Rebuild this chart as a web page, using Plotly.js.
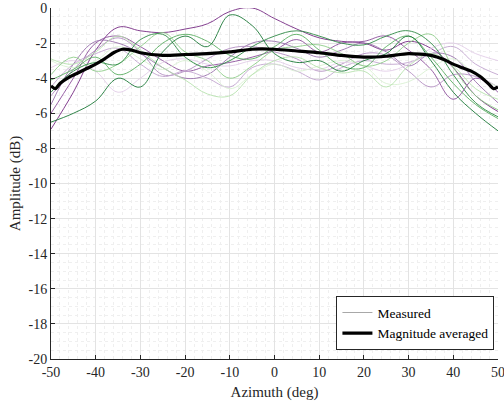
<!DOCTYPE html>
<html>
<head>
<meta charset="utf-8">
<script src="https://cdn.plot.ly/plotly-3.0.1.min.js"></script>
<style>html,body{margin:0;padding:0;background:#fff;}#chart{width:504px;height:406px;}</style>
</head>
<body>
<div id="chart"></div>
<script>
// Azimuth grid for the measured curves (deg)
const azimuth = [-50,-45,-40,-35,-30,-25,-20,-15,-10,-5,0,5,10,15,20,25,30,35,40,45,50];

// Measured amplitude curves (dB)
const measured1  = [-6.9,-4.8,-2.4,-1.1,-1.3,-1.4,-1.2,-0.9,-0.2,0.0,-0.6,-1.2,-1.7,-1.9,-2.0,-2.4,-1.9,-2.3,-3.4,-5.0,-5.9];
const measured2  = [-6.0,-4.0,-2.0,-1.6,-2.2,-3.0,-3.6,-3.3,-3.1,-2.8,-2.4,-1.8,-2.5,-2.0,-1.9,-1.6,-2.4,-3.5,-5.2,-4.0,-4.8];
const measured3  = [-5.5,-3.2,-1.9,-2.0,-2.6,-3.4,-4.0,-3.8,-2.8,-2.0,-1.9,-2.3,-2.8,-2.4,-2.0,-2.5,-3.3,-2.6,-2.8,-4.2,-5.4];
const measured4  = [-5.0,-3.5,-2.4,-1.7,-2.5,-3.8,-3.6,-2.9,-2.3,-2.2,-2.5,-2.9,-3.6,-3.2,-2.6,-2.7,-3.6,-4.5,-3.8,-3.9,-4.5];
const measured5  = [-4.5,-3.2,-2.6,-2.3,-3.2,-3.9,-3.6,-4.0,-4.5,-3.4,-3.2,-3.6,-4.1,-3.4,-3.0,-3.2,-3.1,-2.6,-2.2,-3.2,-3.8];
const measured6  = [-3.4,-3.0,-3.6,-4.8,-4.0,-3.1,-2.9,-3.2,-3.3,-3.0,-3.0,-3.4,-3.5,-3.1,-3.3,-3.6,-3.2,-2.3,-2.0,-2.6,-3.0];
const measured7  = [-3.0,-3.4,-3.0,-2.2,-2.9,-3.5,-3.0,-3.6,-4.6,-3.8,-3.2,-3.6,-3.3,-3.0,-3.3,-4.3,-4.2,-3.4,-2.9,-3.8,-4.5];
const measured8  = [-2.9,-3.2,-2.5,-1.6,-2.4,-3.4,-4.1,-4.9,-5.0,-3.8,-3.0,-2.8,-3.4,-3.7,-3.6,-4.5,-3.3,-2.6,-3.3,-4.6,-5.2];
const measured9  = [-3.8,-2.8,-3.6,-3.2,-2.2,-1.4,-2.5,-3.0,-4.0,-3.3,-2.4,-2.2,-2.1,-2.6,-3.3,-3.0,-2.0,-1.5,-3.4,-5.0,-5.8];
const measured10 = [-4.1,-3.5,-2.8,-3.8,-3.2,-2.0,-1.5,-1.9,-2.7,-2.9,-2.2,-1.5,-2.4,-3.3,-3.4,-2.2,-1.6,-2.8,-4.3,-5.5,-6.3];
const measured11 = [-4.8,-3.6,-3.1,-3.2,-1.8,-1.5,-2.8,-3.4,-3.0,-2.2,-1.6,-1.3,-1.6,-2.0,-2.1,-1.6,-1.3,-2.0,-3.8,-5.4,-6.2];
const measured12 = [-6.5,-6.0,-5.3,-4.0,-4.5,-2.5,-1.6,-2.2,-0.4,-1.0,-2.6,-3.1,-3.0,-3.6,-3.0,-2.6,-1.6,-3.0,-4.8,-6.0,-7.0];

const measuredCurves = [measured1,measured2,measured3,measured4,measured5,measured6,
                        measured7,measured8,measured9,measured10,measured11,measured12];
const curveColors = ['#762a83','#8c4f9c','#9970ab','#b38fc2','#c2a5cf','#e2cde8',
                     '#d9f0d3','#b7e2ae','#8fcd89','#5aae61','#2f8a45','#1b7837'];

// Magnitude-averaged curve
const avgAzimuth = [-50,-49,-48,-46,-44,-42,-40,-38,-36,-34,-32,-30,-25,-20,-15,-10,-5,0,5,10,15,20,25,30,35,38,40,42,44,46,48,49,50];
const avgAmplitude = [-4.45,-4.6,-4.3,-3.95,-3.7,-3.45,-3.2,-2.9,-2.55,-2.35,-2.4,-2.55,-2.7,-2.65,-2.6,-2.5,-2.35,-2.35,-2.45,-2.55,-2.7,-2.8,-2.75,-2.6,-2.7,-2.95,-3.2,-3.4,-3.6,-3.9,-4.35,-4.6,-4.5];

const xTicks = [-50,-40,-30,-20,-10,0,10,20,30,40,50];
const yTicks = [-20,-18,-16,-14,-12,-10,-8,-6,-4,-2,0];

const FONT = '"Liberation Serif", "Times New Roman", serif';

const traces = measuredCurves.map((ys, i) => ({
  x: azimuth, y: ys, type: 'scatter', mode: 'lines',
  line: {color: curveColors[i], width: 0.9, shape: 'spline', smoothing: 1.1},
  showlegend: false, hoverinfo: 'skip'
}));
traces.push({
  x: [null], y: [null], type: 'scatter', mode: 'lines', name: 'Measured',
  line: {color: '#a8a8a8', width: 1}
});
traces.push({
  x: avgAzimuth, y: avgAmplitude, type: 'scatter', mode: 'lines', name: 'Magnitude averaged',
  line: {color: '#000000', width: 3.2, shape: 'spline', smoothing: 0.6}
});

const axisCommon = {
  showline: true, linecolor: '#262626', linewidth: 1, mirror: false,
  ticks: 'inside', ticklen: 4, tickcolor: '#262626', tickwidth: 1,
  showgrid: true, gridcolor: '#e3e3e3', gridwidth: 1, zeroline: false,
  ticklabeloverflow: 'allow',
  tickfont: {family: FONT, size: 14, color: '#262626'}
};

const layout = {
  width: 504, height: 406,
  margin: {l: 51, r: 6, t: 8, b: 47},
  paper_bgcolor: '#ffffff', plot_bgcolor: '#ffffff',
  font: {family: FONT, color: '#262626'},
  xaxis: Object.assign({}, axisCommon, {
    range: [-50, 50], tickvals: xTicks, ticktext: xTicks.map(String),
    minor: {dtick: 2, tick0: 0, showgrid: true, gridcolor: '#efefef', griddash: 'dot', gridwidth: 1, ticks: ''},
    title: {text: 'Azimuth (deg)', font: {family: FONT, size: 15, color: '#262626'}, standoff: 7}
  }),
  yaxis: Object.assign({}, axisCommon, {
    range: [-20, 0], tickvals: yTicks, ticktext: yTicks.map(String),
    minor: {dtick: 0.5, tick0: 0, showgrid: true, gridcolor: '#efefef', griddash: 'dot', gridwidth: 1, ticks: ''},
    title: {text: 'Amplitude (dB)', font: {family: FONT, size: 15, color: '#262626'}, standoff: 4}
  }),
  legend: {
    x: 0.992, xanchor: 'right', y: 0.025, yanchor: 'bottom',
    bgcolor: '#ffffff', bordercolor: '#262626', borderwidth: 1,
    font: {family: FONT, size: 13.5, color: '#000000'},
    tracegroupgap: 0, itemwidth: 30
  },
  showlegend: true
};

Plotly.newPlot('chart', traces, layout, {displayModeBar: false, staticPlot: true});
</script>
</body>
</html>
